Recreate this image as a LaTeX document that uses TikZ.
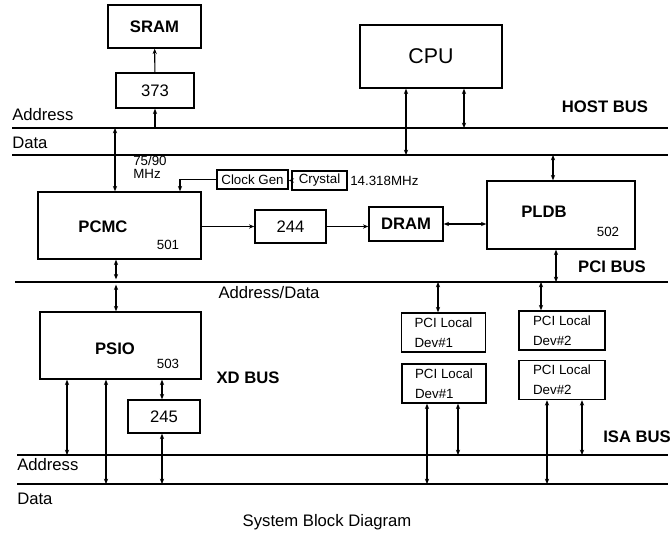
\documentclass[tikz,border=0pt]{standalone}
\usepackage{fontspec}
\setmainfont{Liberation Sans}
\usetikzlibrary{arrows.meta}
\newcommand\fsNorm{\fontsize{12.5}{15}\selectfont}
\newcommand\fsHead{\fontsize{12.5}{15}\selectfont\bfseries}
\newcommand\fsSmall{\fontsize{10}{15}\selectfont}
\newcommand\fsBig{\fontsize{16}{19}\selectfont}
\tikzset{
  box/.style 2 args={draw,line width=1.1pt,inner sep=0pt,
    minimum width=#1*0.75pt,minimum height=#2*0.75pt,font=\fsNorm},
  dev/.style={box={84}{39},align=left,font=\fsSmall},
  bus/.style={line width=1.8pt},
  arr/.style={-{Stealth[length=4pt,width=3.2pt]},line width=0.8pt},
  dbl/.style={{Stealth[length=4pt,width=3.2pt]}-{Stealth[length=4pt,width=3.2pt]},line width=0.8pt},
  txt/.style={inner sep=0pt,font=\fsNorm},
  head/.style={inner sep=0pt,font=\fsHead},
  num/.style={inner sep=0pt,font=\fsSmall},
}
\begin{document}
\begin{tikzpicture}[x=0.75pt,y=-0.75pt]
  \fill[white] (0,0) rectangle (672,536);
  \useasboundingbox (0,0) rectangle (672,536);
  % bus lines
  \coordinate (hostA) at (12,128);
  \coordinate (hostD) at (12,155);
  \coordinate (pci)   at (15,282);
  \coordinate (isaA)  at (17,455);
  \coordinate (isaD)  at (17,484);
  \foreach \b in {hostA,hostD,pci,isaA,isaD}
    \draw[bus] (\b) -- (\b -| 668,0);
  % blocks
  \node[box={93}{43},font=\fsHead] (sram) at (154.5,26.5) {SRAM};
  \node[box={78}{35}] (u373) at (155,90.5) {373};
  \node[box={142}{63},font=\fsBig] (cpu) at (431,56.5) {CPU};
  \node[box={163}{67}] (pcmc) at (119.5,225.5) {};
  \node[head] (pcmc-t) at (103,227) {PCMC};
  \node[num] (pcmc-n) at (168,245) {501};
  \node[box={71}{19},font=\fsSmall] (clk) at (252.5,179.5) {Clock Gen};
  \node[box={55}{19},font=\fsSmall] (xtal) at (319.5,180.5) {Crystal};
  \node[box={71}{33}] (u244) at (290.5,226.5) {244};
  \node[box={74}{34},font=\fsHead] (dram) at (406,224) {DRAM};
  \node[box={148}{68}] (pldb) at (561,215) {};
  \node[head] (pldb-t) at (544,212) {PLDB};
  \node[num] (pldb-n) at (608,232) {502};
  \node[box={161}{67}] (psio) at (120.5,345.5) {};
  \node[head] (psio-t) at (115,349) {PSIO};
  \node[num] (psio-n) at (168,364) {503};
  \node[box={72}{33}] (u245) at (164,416.5) {245};
  \node[dev] (dev1a) at (443.5,332.5) {PCI Local\\Dev\#1};
  \node[dev,minimum width=86*0.75pt] (dev2a) at (562,330.5) {PCI Local\\Dev\#2};
  \node[dev] (dev1b) at (444,383.5) {PCI Local\\Dev\#1};
  \node[dev,minimum width=86*0.75pt] (dev2b) at (562,380) {PCI Local\\Dev\#2};
  % labels
  \node[txt,anchor=west] (addr-h) at (12,115) {Address};
  \node[txt,anchor=west] (data-h) at (12,143) {Data};
  \node[head] (hostbus) at (605,107) {HOST BUS};
  \node[num,anchor=west,align=left,font=\fontsize{10}{10}\selectfont] (mhz) at (133,167) {75/90\\MHz};
  \node[num,anchor=west] (xfreq) at (350,181) {14.318MHz};
  \node[head] (pcibus) at (612,267) {PCI BUS};
  \node[txt] (addrdata) at (269,293) {Address/Data};
  \node[head] (xdbus) at (248,378) {XD BUS};
  \node[head,anchor=west] (isabus) at (603,437) {ISA BUS};
  \node[txt,anchor=west] (addr-i) at (17,465) {Address};
  \node[txt,anchor=west] (data-i) at (17,499) {Data};
  \node[txt] (title) at (327,522) {System Block Diagram};
  % host side
  \draw[arr] (u373) -- (sram);
  \draw[arr] (hostA -| u373) -- (u373);
  \draw[dbl] (cpu.south -| 406,0) -- (hostD -| 406,0);
  \draw[dbl] (cpu.south -| 464,0) -- (hostA -| 464,0);
  \draw[dbl] (hostA -| 115,0) -- (pcmc.north -| 115,0);
  \draw[arr] (clk.west) -| (pcmc.north -| 180,0);
  \draw[arr] (xtal.west) -- (xtal.west -| clk.east);
  \draw[arr] (u244.west -| pcmc.east) -- (u244.west);
  \draw[arr] (u244.east) -- (u244.east -| dram.west);
  \draw[dbl] (dram.east) -- (dram.east -| pldb.west);
  \draw[dbl] (hostD -| 553,0) -- (pldb.north -| 553,0);
  % pci side
  \draw[dbl] (pldb.south -| 556,0) -- (pci -| 556,0);
  \draw[dbl,shorten >=2pt] (pcmc.south -| 116,0) -- (pci -| 116,0);
  \draw[dbl,shorten <=2pt] (pci -| 116,0) -- (psio.north -| 116,0);
  \draw[dbl] (pci -| 438,0) -- (dev1a.north -| 438,0);
  \draw[dbl] (pci -| 541,0) -- (dev2a.north -| 541,0);
  % isa side
  \draw[dbl] (psio.south -| 67,0) -- (isaA -| 67,0);
  \draw[dbl] (psio.south -| 106,0) -- (isaD -| 106,0);
  \draw[dbl] (psio.south -| 162,0) -- (u245.north -| 162,0);
  \draw[dbl] (u245.south -| 162,0) -- (isaD -| 162,0);
  \draw[dbl] (dev1b.south -| 427,0) -- (isaD -| 427,0);
  \draw[dbl] (dev1b.south -| 458,0) -- (isaA -| 458,0);
  \draw[dbl] (dev2b.south -| 547,0) -- (isaD -| 547,0);
  \draw[dbl] (dev2b.south -| 582,0) -- (isaA -| 582,0);
\end{tikzpicture}
\end{document}
